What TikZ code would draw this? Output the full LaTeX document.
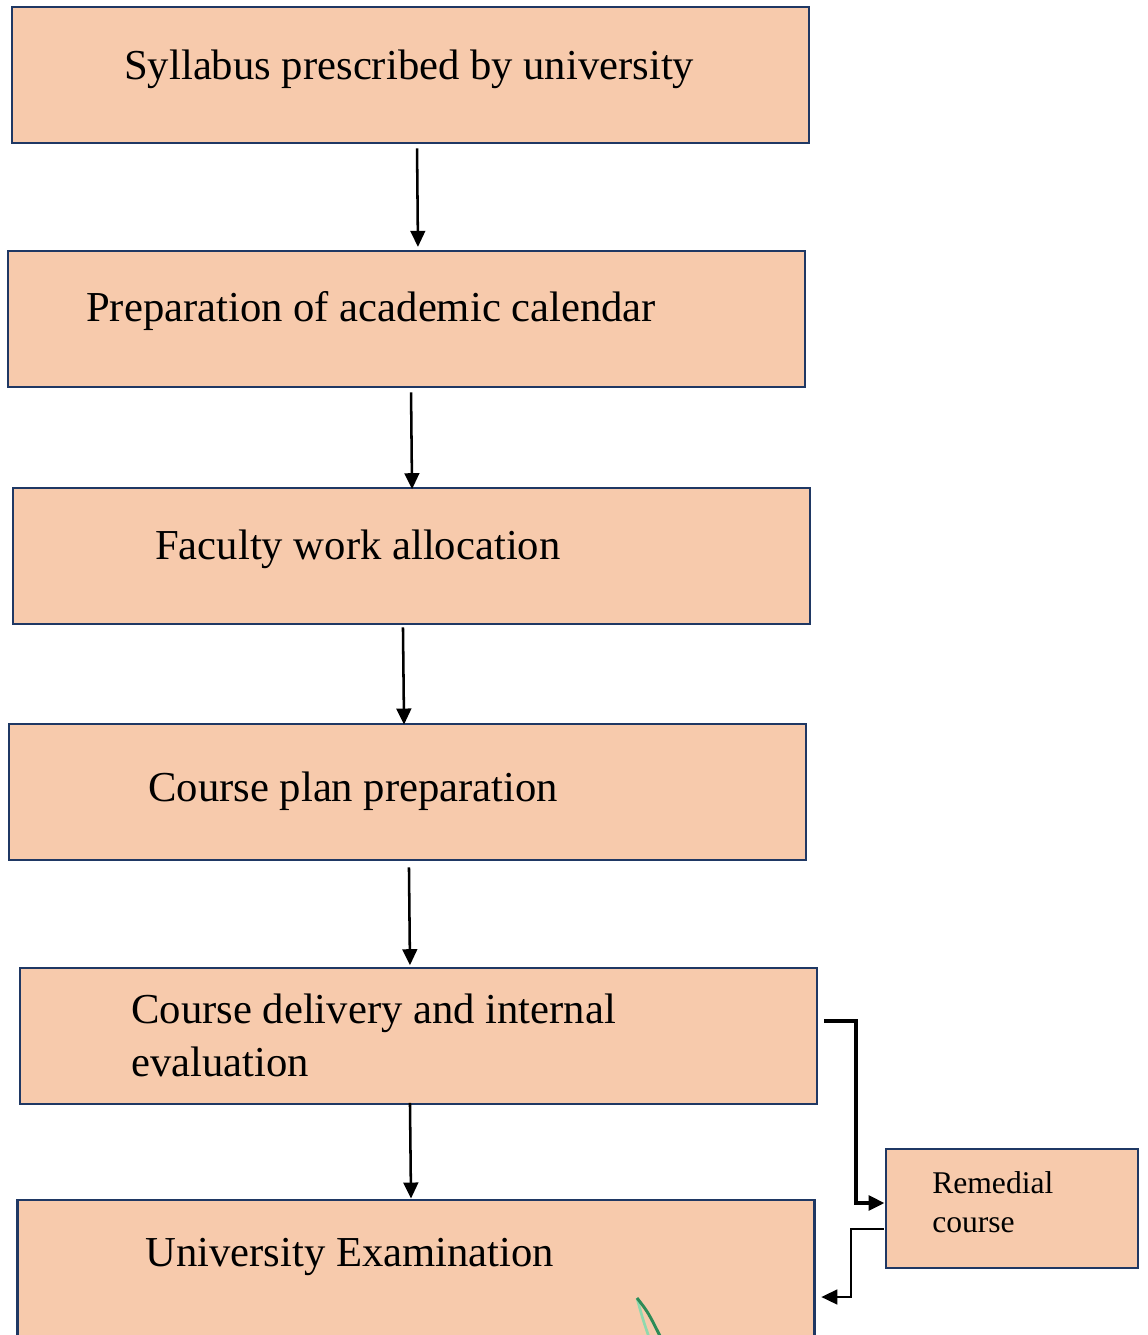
\documentclass[tikz,border=0pt]{standalone}
\usepackage{fontspec}
\setmainfont{Liberation Serif}
\usetikzlibrary{arrows.meta}
\definecolor{boxfill}{HTML}{F7CAAC}
\definecolor{boxline}{HTML}{1F3864}
\definecolor{penA}{HTML}{2E8B57}
\definecolor{penB}{HTML}{8FD9AE}
\begin{document}
\begin{tikzpicture}[x=0.75pt,y=-0.75pt,
  stepbox/.style={draw=boxline,fill=boxfill,line width=2.2pt,minimum width=597.75pt,minimum height=102pt,inner sep=0pt},
  smallbox/.style={draw=boxline,fill=boxfill,line width=2.2pt,minimum width=189pt,minimum height=89.25pt,inner sep=0pt},
  bigtxt/.style={anchor=base west,inner sep=0pt,font=\fontsize{32pt}{39pt}\selectfont},
  smalltxt/.style={anchor=base west,inner sep=0pt,font=\fontsize{23.7pt}{29pt}\selectfont},
  flow/.style={-{Triangle[length=12pt,width=11pt]},line width=1.9pt}]
\useasboundingbox (0,0) rectangle (1147,1335);
\begin{scope}
\clip (0,0) rectangle (1147,1335);
\node[stepbox] (b1) at (410.5,75) {};
\node[stepbox] (b2) at (406.5,319) {};
\node[stepbox] (b3) at (411.5,556) {};
\node[stepbox] (b4) at (407.5,792) {};
\node[stepbox] (b5) at (418.5,1036) {};
\node[stepbox,minimum height=105pt] (b6) at (416,1270) {};
\node[smallbox] (rc) at (1012,1208.5) {};

\node[bigtxt] (t1) at (124,79) {Syllabus prescribed by university};
\node[bigtxt] (t2) at (86,321) {Preparation of academic calendar};
\node[bigtxt] (t3) at (155,559) {Faculty work allocation};
\node[bigtxt] (t4) at (148,801) {Course plan preparation};
\node[bigtxt] (t5) at (131,1023) {Course delivery and internal};
\node[bigtxt] (t5b) at (131,1076) {evaluation};
\node[bigtxt] (t6) at (145,1266) {University Examination};
\node[smalltxt] (r1) at (932,1193) {Remedial};
\node[smalltxt] (r2) at (932,1232) {course};

\draw[flow] ([xshift=4.9pt,yshift=-3pt]b1.south) -- ([xshift=8.6pt,yshift=2pt]b2.north);
\draw[flow] ([xshift=3.4pt,yshift=-3pt]b2.south) -- ([xshift=0.4pt,yshift=-2pt]b3.north);
\draw[flow] ([xshift=-6.4pt,yshift=-1.5pt]b3.south) -- ([xshift=-2.6pt,yshift=-1.5pt]b4.north);
\draw[flow] ([xshift=1.1pt,yshift=-4.5pt]b4.south) -- ([xshift=-6.4pt,yshift=1pt]b5.north);
\draw[flow] ([xshift=-6.4pt,yshift=2pt]b5.south) -- ([xshift=-3.75pt]b6.north);

\coordinate (o1) at (824,1021);
\coordinate (o2) at (884,1229);
\draw[-{Triangle[length=12pt,width=11pt]},line width=2.8pt] (o1) -- (856,1021) |- (rc.west |- 0,1203);
\draw[-{Triangle[length=12pt,width=11pt]},line width=1.9pt] (o2) -- (851,1229) |- ([xshift=4pt]b6.east |- 0,1297);

\draw[penB,line width=2pt] (650,1340) .. controls (643,1320) .. (637,1298);
\draw[penA,line width=2.2pt] (637,1298) .. controls (648,1312) .. (662,1340);
\end{scope}
\end{tikzpicture}
\end{document}
